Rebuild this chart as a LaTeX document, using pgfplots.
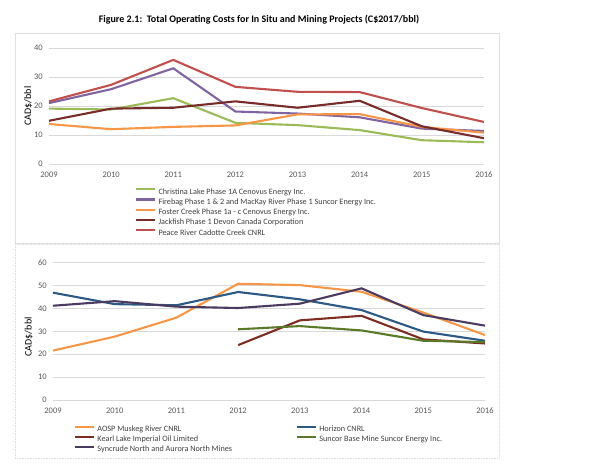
\documentclass[border=0pt]{standalone}
\usepackage{pgfplots}
\pgfplotsset{compat=1.18}
\usepackage{fontspec}
\setmainfont{Carlito}
\definecolor{cgreen}{HTML}{9BBB59}
\definecolor{cpurple}{HTML}{8064A2}
\definecolor{corange}{HTML}{F79646}
\definecolor{cjack}{HTML}{772C2A}
\definecolor{cred}{HTML}{C0504D}
\definecolor{cblue}{HTML}{2C5985}
\definecolor{ckearl}{HTML}{7E2D22}
\definecolor{colive}{HTML}{5A7A2A}
\definecolor{csyn}{HTML}{4B3B61}
\definecolor{tickgray}{HTML}{595959}
\definecolor{legtext}{HTML}{404040}
\pgfplotsset{
  base/.style={
    scale only axis,
    xmin=2009, xmax=2016,
    xtick={2009,...,2016},
    /pgf/number format/assume math mode=true,
    x tick label style={/pgf/number format/1000 sep={}},
    axis line style={draw=none},
    major tick length=0pt,
    ymajorgrids,
    grid style={color=gray!30, line width=0.5pt},
    tick label style={font=\fontsize{8.5}{10}\selectfont, color=tickgray},
    yticklabel style={anchor=east, inner sep=0pt, xshift=-6pt},
    xticklabel style={anchor=north, inner sep=0pt, yshift=-8pt},
    label style={font=\fontsize{9}{10}\selectfont, color=tickgray},
    legend cell align=left,
    legend image code/.code={\draw[##1, line width=2.2pt] (0pt,2.5pt) -- (19pt,2.5pt);},
    every axis plot/.append style={line width=2.1pt, no markers},
  }
}
\begin{document}
\begin{tikzpicture}
\path[use as bounding box] (0pt,0pt) rectangle (590pt,-464pt);
\draw[gray!25, line width=0.6pt] (15pt,-33pt) rectangle (499pt,-243pt);
\draw[gray!25, line width=0.6pt, densely dotted] (15pt,-244pt) rectangle (499pt,-458pt);
\node[font=\bfseries\fontsize{10}{12}\selectfont] at (259pt,-20pt) {Figure 2.1:\ \ Total Operating Costs for In Situ and Mining Projects (C\$2017/bbl)};
\begin{axis}[base,
  at={(49pt,-164pt)}, anchor=south west,
  width=435pt, height=116pt,
  ymin=0, ymax=40, ytick={0,10,20,30,40},
  ylabel={CAD\$/bbl},
  every axis y label/.style={at={(axis description cs:-0.048,0.5)}, rotate=90, anchor=center},
  legend style={at={(axis description cs:0.198,-0.198)}, anchor=north west, draw=none, fill=none, inner sep=0pt,
    font=\fontsize{8.2}{9}\selectfont, text=legtext, row sep=1pt,
    nodes={inner sep=0pt, text height=7pt, text depth=2.25pt},
    /tikz/every odd column/.append style={column sep=2pt}},
]
\addplot[cgreen] coordinates {(2009,19.1) (2010,18.8) (2011,22.7) (2012,14.2) (2013,13.4) (2014,11.7) (2015,8.2) (2016,7.5)};
\addlegendentry{Christina Lake Phase 1A Cenovus Energy Inc.}
\addplot[cpurple] coordinates {(2009,21.0) (2010,25.8) (2011,33.0) (2012,18.1) (2013,17.4) (2014,16.1) (2015,12.2) (2016,11.4)};
\addlegendentry{Firebag Phase 1 \& 2 and MacKay River Phase 1 Suncor Energy Inc.}
\addplot[corange] coordinates {(2009,13.8) (2010,12.0) (2011,12.8) (2012,13.3) (2013,17.1) (2014,17.2) (2015,12.8) (2016,10.8)};
\addlegendentry{Foster Creek Phase 1a - c Cenovus Energy Inc.}
\addplot[cjack] coordinates {(2009,14.9) (2010,19.1) (2011,19.4) (2012,21.6) (2013,19.4) (2014,21.8) (2015,13.0) (2016,8.9)};
\addlegendentry{Jackfish Phase 1 Devon Canada Corporation}
\addplot[cred] coordinates {(2009,21.6) (2010,27.3) (2011,35.9) (2012,26.6) (2013,24.9) (2014,24.8) (2015,19.3) (2016,14.5)};
\addlegendentry{Peace River Cadotte Creek CNRL}
\end{axis}
\begin{axis}[base,
  at={(53pt,-400pt)}, anchor=south west,
  width=432pt, height=137.3pt,
  ymin=0, ymax=60, ytick={0,10,...,60},
  ylabel={CAD\$/bbl},
  every axis y label/.style={at={(axis description cs:-0.056,0.46)}, rotate=90, anchor=center},
  legend columns=2,
  legend style={at={(axis description cs:0.0486,-0.178)}, anchor=north west, draw=none, fill=none, inner sep=0pt,
    font=\fontsize{8.2}{9}\selectfont, text=legtext, row sep=0.75pt,
    nodes={inner sep=0pt, text height=7pt, text depth=2.25pt},
    /tikz/every odd column/.append style={column sep=2pt},
    /tikz/every even column/.append style={column sep=64pt}},
]
\addplot[corange] coordinates {(2009,21.6) (2010,27.7) (2011,36.0) (2012,50.8) (2013,50.2) (2014,47.3) (2015,38.2) (2016,28.4)};
\addlegendentry{AOSP Muskeg River CNRL}
\addplot[cblue] coordinates {(2009,46.9) (2010,41.9) (2011,41.4) (2012,47.2) (2013,44.0) (2014,39.3) (2015,29.9) (2016,25.9)};
\addlegendentry{Horizon CNRL}
\addplot[ckearl] coordinates {(2012,24.0) (2013,34.8) (2014,36.8) (2015,26.5) (2016,24.7)};
\addlegendentry{Kearl Lake Imperial Oil Limited}
\addplot[colive] coordinates {(2012,30.9) (2013,32.3) (2014,30.4) (2015,25.9) (2016,25.3)};
\addlegendentry{Suncor Base Mine Suncor Energy Inc.}
\addplot[csyn] coordinates {(2009,41.2) (2010,43.2) (2011,40.8) (2012,40.2) (2013,42.1) (2014,48.8) (2015,37.1) (2016,32.5)};
\addlegendentry{Syncrude North and Aurora North Mines}
\end{axis}
\end{tikzpicture}
\end{document}
